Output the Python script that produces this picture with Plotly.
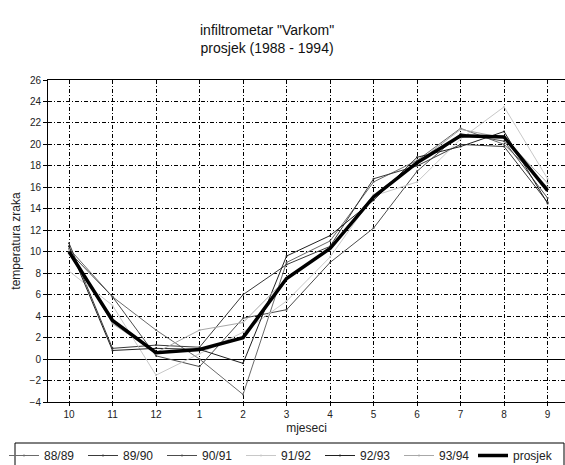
import plotly.graph_objects as go

months = ['10', '11', '12', '1', '2', '3', '4', '5', '6', '7', '8', '9']

# temperatura zraka po godinama
t_88_89 = [10.3, 5.8, 2.7, 0.0, -3.3, 9.0, 11.0, 16.5, 18.5, 21.5, 20.0, 16.0]
t_89_90 = [10.8, 1.0, 1.3, 1.1, 6.0, 8.8, 10.5, 16.8, 18.0, 20.0, 19.8, 14.6]
t_90_91 = [10.0, 5.8, 0.3, -0.7, 3.8, 4.6, 9.0, 12.2, 17.5, 21.0, 20.3, 15.0]
t_91_92 = [8.2, 5.0, -1.5, 0.5, 2.5, 5.4, 9.5, 15.2, 16.5, 20.5, 23.5, 16.8]
t_92_93 = [10.5, 0.8, 1.0, 0.9, -0.4, 9.6, 11.5, 14.8, 18.8, 19.8, 21.2, 14.5]
t_93_94 = [10.2, 3.3, 0.6, 2.7, 3.4, 7.5, 10.3, 15.3, 18.3, 21.4, 20.6, 16.4]
prosjek = [10.0, 3.6, 0.6, 0.9, 2.0, 7.5, 10.3, 15.1, 18.3, 20.8, 20.7, 15.7]

series = [
    ('88/89', t_88_89, '#6a6a6a'),
    ('89/90', t_89_90, '#3a3a3a'),
    ('90/91', t_90_91, '#4c4c4c'),
    ('91/92', t_91_92, '#c8c8c8'),
    ('92/93', t_92_93, '#202020'),
    ('93/94', t_93_94, '#a8a8a8'),
]

x = list(range(len(months)))

fig = go.Figure()

for name, vals, color in series:
    fig.add_trace(go.Scatter(
        x = x,
        y = vals,
        mode = 'lines+markers',
        name = name,
        line = dict(color=color, width=1),
        marker = dict(color=color, size=2),
    ))

fig.add_trace(go.Scatter(
    x = x,
    y = prosjek,
    mode = 'lines',
    name = 'prosjek',
    line = dict(color='black', width=3.5),
    legend = 'legend2',
))

leg_common = dict(
    orientation='h',
    xref='container', yref='container',
    y=1 - 441/465,
    xanchor='left', yanchor='top',
    bgcolor='rgba(0,0,0,0)', borderwidth=0,
    font=dict(size=12, color='#222'),
    itemwidth=30,
    tracegroupgap=0,
)

fig.update_layout(
    width=565, height=465,
    margin=dict(l=48, r=0, t=80, b=63),
    paper_bgcolor='white', plot_bgcolor='white',
    font=dict(family='Liberation Sans, Arial', size=10, color='#222'),
    showlegend=True,
    legend=dict(leg_common, x=4/565, entrywidth=34),
    legend2=dict(leg_common, x=473/565),
)

# okvir legende
fig.add_shape(
    type='rect', xref='paper', yref='paper',
    x0=(15 - 48) / 517, x1=(564 - 48) / 517,
    y0=(402 - 475) / 322, y1=(402 - 443) / 322,
    line=dict(color='black', width=1), fillcolor='rgba(0,0,0,0)',
    layer='above',
)

fig.add_annotation(
    text='infiltrometar "Varkom"<br>prosjek (1988 - 1994)',
    xref='paper', yref='paper', x=(267 - 48) / 517, y=1 + (80 - 20) / 322,
    xanchor='center', yanchor='top', showarrow=False,
    font=dict(size=14, color='#111'),
)

fig.update_xaxes(
    range=[-0.483, 11.40],
    tickvals=x, ticktext=months,
    showgrid=True, gridcolor='black', gridwidth=1, griddash='4px,2px,1px,2px',
    showline=True, linecolor='black', linewidth=1, mirror=True,
    ticks='outside', ticklen=3, tickcolor='black',
    zeroline=False,
    title=dict(text='mjeseci', font=dict(size=12), standoff=4),
)

fig.update_yaxes(
    range=[-4, 26], dtick=2,
    showgrid=True, gridcolor='black', gridwidth=1, griddash='4px,2px,1px,2px',
    showline=True, linecolor='black', linewidth=1,
    ticks='outside', ticklen=4, tickcolor='black',
    zeroline=True, zerolinecolor='black', zerolinewidth=1,
    title=dict(text='temperatura zraka', font=dict(size=12), standoff=6),
)

fig.write_html("out.html", config={'displayModeBar': False},
               post_script="document.body.style.margin='0';document.body.style.overflow='hidden';")
